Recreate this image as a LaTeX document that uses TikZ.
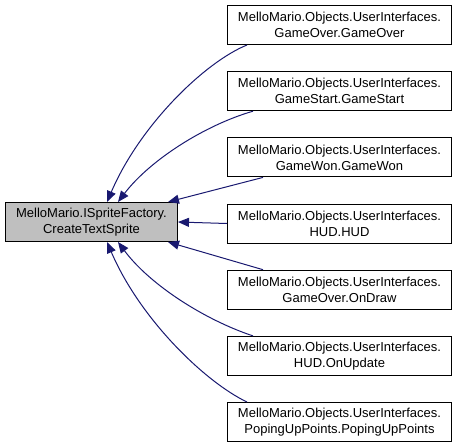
\documentclass[tikz,border=0pt]{standalone}
\usepackage{fontspec}
\setmainfont{Liberation Sans}
\usetikzlibrary{arrows.meta,calc}
\definecolor{edgecol}{RGB}{25,25,112}
\definecolor{lgray}{RGB}{191,191,191}
\tikzset{
  rbox/.style={draw=black, line width=1pt, fill=white, minimum width=224pt, minimum height=39pt, inner sep=0pt, align=center, font=\fontsize{13}{16}\selectfont},
  lbox/.style={rbox, fill=lgray, minimum width=172pt},
  edge/.style={draw=edgecol, line width=1pt, -{Triangle[length=11pt,width=9pt]}}
}
\begin{document}
\begin{tikzpicture}[x=1pt,y=-1pt]
\useasboundingbox (0,0) rectangle (457,444);
\node[lbox] (L) at (91.5,222) {MelloMario.ISpriteFactory.\\CreateTextSprite};
\node[rbox] (r1) at (339.5,25) {MelloMario.Objects.UserInterfaces.\\GameOver.GameOver};
\node[rbox] (r2) at (339.5,91.2) {MelloMario.Objects.UserInterfaces.\\GameStart.GameStart};
\node[rbox] (r3) at (339.5,157.4) {MelloMario.Objects.UserInterfaces.\\GameWon.GameWon};
\node[rbox] (r4) at (339.5,223.5) {MelloMario.Objects.UserInterfaces.\\HUD.HUD};
\node[rbox] (r5) at (339.5,289.7) {MelloMario.Objects.UserInterfaces.\\GameOver.OnDraw};
\node[rbox] (r6) at (339.5,355.9) {MelloMario.Objects.UserInterfaces.\\HUD.OnUpdate};
\node[rbox] (r7) at (339.5,422) {MelloMario.Objects.UserInterfaces.\\PopingUpPoints.PopingUpPoints};
% top edges
\draw[edge] ($(r1.south west)+(20,0)$) .. controls (205,62) and (140,125) .. ($(L.north)+(15.5,0)$);
\draw[edge] ($(r2.south west)+(26,0)$) .. controls (205,125) and (150,160) .. ($(L.north)+(26.5,0)$);
\draw[edge] ($(r3.south west)+(36,0)$) -- ($(L.north)+(76.5,0)$);
\draw[edge] (r4.west) -- (L.east);
\draw[edge] ($(r5.north west)+(36,0)$) -- ($(L.south)+(76.5,0)$);
\draw[edge] ($(r6.north west)+(26,0)$) .. controls (205,320) and (150,285) .. ($(L.south)+(26.5,0)$);
\draw[edge] ($(r7.north west)+(20,0)$) .. controls (205,382) and (140,319) .. ($(L.south)+(15.5,0)$);
\end{tikzpicture}
\end{document}
